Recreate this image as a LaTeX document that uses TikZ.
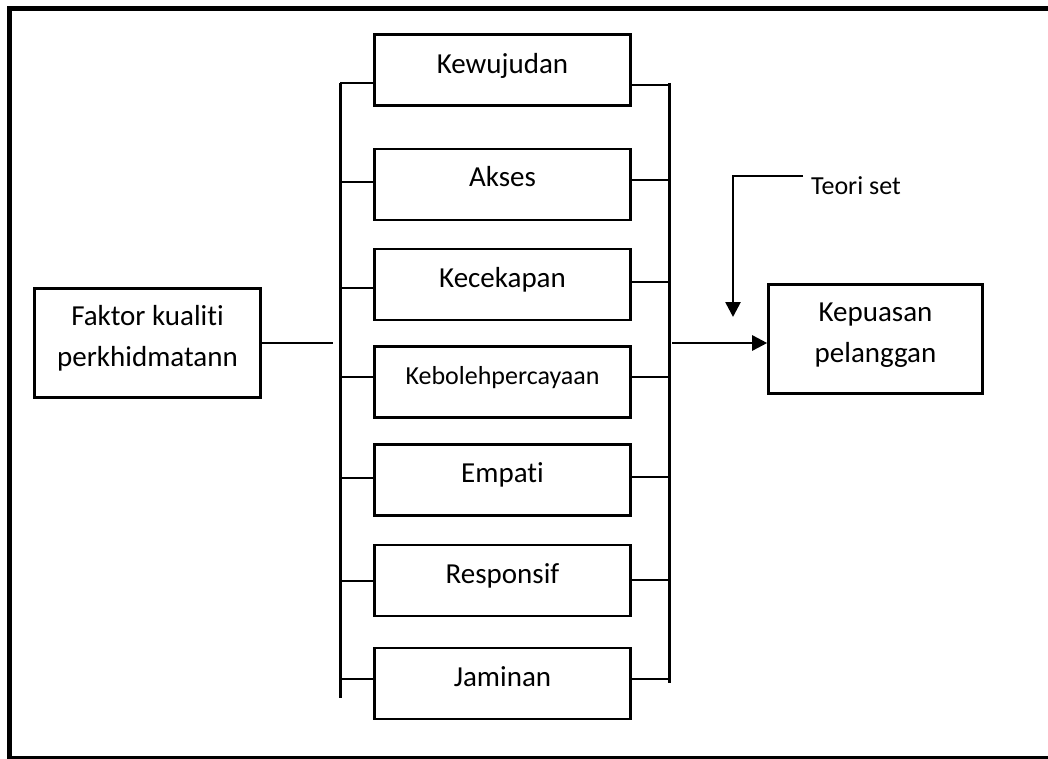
\documentclass[tikz,border=0pt]{standalone}
\usepackage{fontspec}
\setmainfont{Carlito}[Ligatures=NoCommon]
\usetikzlibrary{arrows.meta,calc}
\begin{document}
\begin{tikzpicture}[x=1pt,y=-1pt,
  box/.style={draw,line width=2.6pt,minimum width=256pt,minimum height=71pt,inner sep=0pt,
    font=\fontsize{29}{35}\selectfont,text height=14pt,text depth=9pt},
  bigbox/.style={draw,line width=2.6pt,minimum height=109pt,inner sep=0pt,align=center,
    font=\fontsize{29}{41}\selectfont,text height=55pt,text depth=8pt},
  bus/.style={line width=3pt},
  tick/.style={line width=1.5pt},
  link/.style={line width=2.6pt},
  arr/.style={line width=2.6pt,-{Triangle[length=15pt,width=15pt]}},
  frame/.style={line width=5pt}]
\clip (0,0) rectangle (1048,759);
\draw[frame] (9,8.5) rectangle (1060,758);

% factor boxes
\node[box,text height=16pt] (kew) at (502.5,70) {Kewujudan};
\node[box] (aks) at (502.5,184.5) {Akses};
\node[box] (kec) at (502.5,284.5) {Kecekapan};
\node[box,font=\fontsize{26}{31}\selectfont] (keb) at (502.5,382) {Kebolehpercayaan};
\node[box] (emp) at (502.5,480) {Empati};
\node[box] (res) at (502.5,580.5) {Responsif};
\node[box] (jam) at (502.5,683.5) {Jaminan};

% side boxes
\node[bigbox,minimum width=226pt] (fak) at (147.5,343) {Faktor kualiti\\perkhidmatann};
\node[bigbox,minimum width=214pt] (kep) at (875.5,339) {Kepuasan\\pelanggan};
\node[font=\fontsize{26}{31}\selectfont,anchor=base west,inner sep=0pt] (teori) at (811,195) {Teori set};

% buses
\coordinate (lt) at (340,83);
\coordinate (lb) at (340,698);
\coordinate (rt) at (669,83);
\coordinate (rb) at (669,683);
\draw[bus] (lt) -- (lb);
\draw[bus] (rt) -- (rb);

% ticks: name / left offset / right offset
\foreach \n/\l/\r in {kew/13/15, aks/-2.5/-4.5, kec/3.5/-2.5, keb/-5/-5, emp/-2/-3, res/0.5/-0.5, jam/-4.5/-4.5}{
  \coordinate (tl) at ($(\n.west)+(0,\l)$);
  \coordinate (tr) at ($(\n.east)+(0,\r)$);
  \draw[tick] (tl) -- (tl -| lt);
  \draw[tick] (tr) -- (tr -| rt);
}

% input line
\coordinate (fend) at (333,343);
\draw[link] (fak.east) -- (fak.east -| fend);

% output arrow
\coordinate (astart) at (672,343);
\draw[arr] (astart) -- (astart -| kep.west);

% theory arrow
\coordinate (tstart) at (803,176);
\coordinate (ttip) at (733,317);
\draw[arr] (tstart) -| (ttip);
\end{tikzpicture}
\end{document}
